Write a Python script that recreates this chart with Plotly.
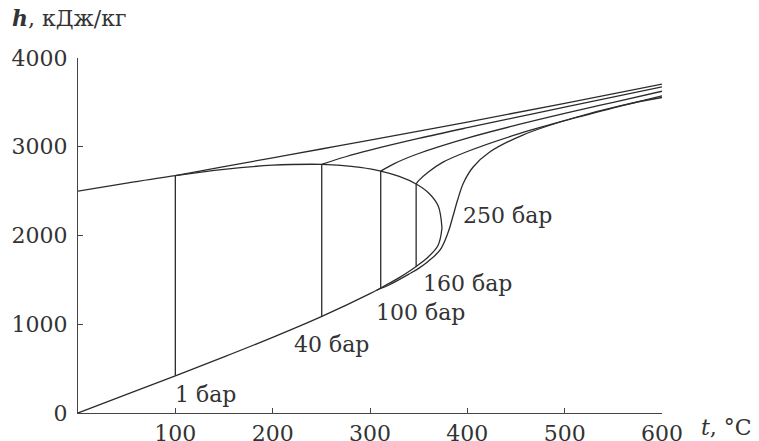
import plotly.graph_objects as go

# Saturated liquid line (t, h')
liq_t = [0, 50, 100, 150, 200, 250, 300, 311.0, 330, 340, 347.4, 360, 370, 373.95]
liq_h = [0, 209.3, 419.2, 632.2, 852.3, 1085.8, 1344.8, 1408.1, 1525.3, 1594.2, 1650.5, 1760.7, 1890.7, 2084.3]

# Saturated vapour line (t, h'')
vap_t = [0, 50, 100, 150, 200, 240, 250.4, 270, 290, 311.0, 330, 347.4, 360, 370, 373.95]
vap_h = [2500.9, 2591.3, 2675.6, 2745.9, 2792.0, 2803.0, 2800.8, 2789.7, 2766.6, 2725.5, 2666.0, 2580.8, 2482.0, 2334.5, 2084.3]

# Boiling (two-phase) segments for each pressure
boil_p = ["1 бар", "40 бар", "100 бар", "160 бар"]
boil_t = [100, 250.4, 311.0, 347.4]
boil_hf = [419.2, 1087.4, 1408.1, 1650.5]
boil_hg = [2675.6, 2800.8, 2725.5, 2580.8]

# Superheated isobars
p1_t = [100, 150, 200, 250, 300, 400, 500, 600]
p1_h = [2675.8, 2776.6, 2875.5, 2974.5, 3074.5, 3278.6, 3488.7, 3705.6]
p40_t = [250.4, 275, 300, 350, 400, 450, 500, 600]
p40_h = [2800.8, 2887.3, 2961.7, 3093.3, 3214.5, 3331.2, 3446.0, 3674.9]
p100_t = [311.0, 325, 350, 400, 450, 500, 550, 600]
p100_h = [2725.5, 2810.3, 2924.0, 3097.5, 3242.4, 3375.1, 3500.9, 3625.8]
p160_t = [347.4, 350, 360, 375, 400, 450, 500, 550, 600]
p160_h = [2580.8, 2618, 2715, 2826, 2946.5, 3136.3, 3293.8, 3437, 3574.1]
# Supercritical isobar
p250_t = [307, 320, 340, 350, 360, 372, 380, 385, 390, 396, 406, 423, 457, 509, 560, 600]
p250_h = [1385, 1445, 1565, 1630, 1710, 1837, 2028, 2208, 2400, 2592, 2772, 2941, 3132, 3324, 3470, 3555]

x_ticks = [100, 200, 300, 400, 500, 600]
y_ticks = [0, 1000, 2000, 3000, 4000]

LC = "#2b2b2b"
LW = 1.3
FONT = "DejaVu Serif"

fig = go.Figure()

def add_line(x, y, shape="linear"):
    fig.add_trace(go.Scatter(x=x, y=y, mode="lines",
                             line=dict(color=LC, width=LW, shape=shape),
                             hoverinfo="skip", showlegend=False))

add_line(liq_t, liq_h, "spline")
add_line(vap_t, vap_h, "spline")
for t, hf, hg in zip(boil_t, boil_hf, boil_hg):
    add_line([t, t], [hf, hg])
for xs, ys in [(p1_t, p1_h), (p40_t, p40_h), (p100_t, p100_h), (p160_t, p160_h), (p250_t, p250_h)]:
    add_line(xs, ys, "spline")

labels = [("1 бар", 131, 203), ("40 бар", 260, 775), ("100 бар", 352, 1138),
          ("160 бар", 400, 1454), ("250 бар", 441, 2220)]
for txt, lx, ly in labels:
    fig.add_annotation(x=lx, y=ly, xref="x", yref="y", text=txt, showarrow=False,
                       xanchor="center", yanchor="middle",
                       font=dict(family=FONT, size=22, color="#333"))

fig.add_annotation(x=-0.1164, y=1.1127, xref="paper", yref="paper",
                   text="<b><i>h</i></b>, кДж/кг", showarrow=False,
                   xanchor="left", yanchor="middle",
                   font=dict(family=FONT, size=22, color="#333"))
fig.add_annotation(x=1.063, y=-0.042, xref="paper", yref="paper",
                   text="<i>t</i>, °C", showarrow=False,
                   xanchor="left", yanchor="middle",
                   font=dict(family=FONT, size=22, color="#333"))

axis_common = dict(showgrid=False, zeroline=False, showline=True, linecolor="#444",
                   linewidth=1.3, ticks="inside", ticklen=5, tickcolor="#444",
                   tickwidth=1.3, automargin=False,
                   tickfont=dict(family=FONT, size=22, color="#333"))
fig.update_xaxes(range=[0, 600], tickvals=x_ticks, ticklabelstandoff=0, **axis_common)
fig.update_yaxes(range=[0, 4000], tickvals=y_ticks, ticklabelstandoff=5, **axis_common)

fig.update_layout(width=759, height=441, margin=dict(l=78, r=97, t=58, b=28),
                  plot_bgcolor="white", paper_bgcolor="white", showlegend=False,
                  font=dict(family=FONT, size=22, color="#333"))

fig.write_html("out.html", config={"displayModeBar": False},
               post_script="document.body.style.margin='0';document.body.style.overflow='hidden';")
